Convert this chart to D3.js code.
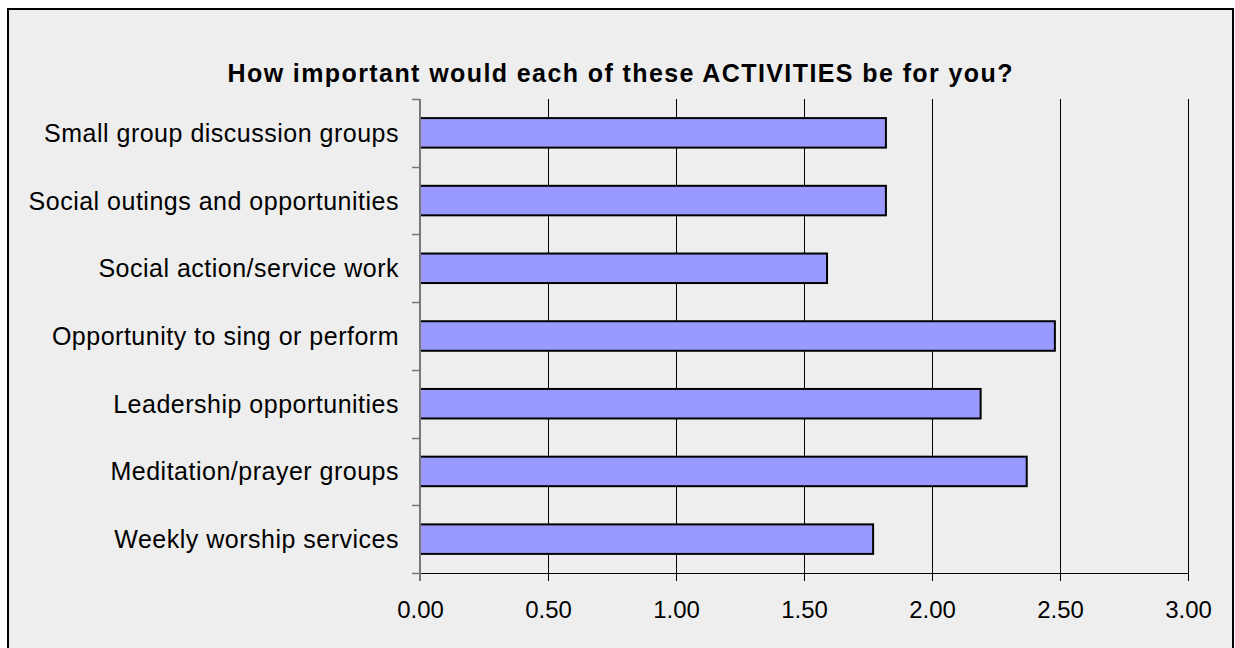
<!DOCTYPE html>
<html>
<head>
<meta charset="utf-8">
<script src="https://cdn.jsdelivr.net/npm/d3@7"></script>
<style>
  html, body { margin: 0; padding: 0; background: #ffffff; }
  svg { display: block; }
  text { font-family: "Liberation Sans", Arial, sans-serif; fill: #000; }
</style>
</head>
<body>
<svg id="chart" width="1235" height="648"></svg>
<script>
// Survey activities, listed top to bottom
const categories = [
  "Small group discussion groups",
  "Social outings and opportunities",
  "Social action/service work",
  "Opportunity to sing or perform",
  "Leadership opportunities",
  "Meditation/prayer groups",
  "Weekly worship services"
];
// Mean importance rating for each activity
const values = [1.82, 1.82, 1.59, 2.48, 2.19, 2.37, 1.77];
// Value axis ticks
const xTicks = [0, 0.5, 1, 1.5, 2, 2.5, 3];
const titleText = "How important would each of these ACTIVITIES be for you?";

const svg = d3.select("#chart");
const plot = { left: 420, right: 1188, top: 99, bottom: 573 };

// Chart area frame
svg.append("rect")
  .attr("x", 8).attr("y", 9)
  .attr("width", 1225).attr("height", 642)
  .attr("fill", "#eeeeee")
  .attr("stroke", "#000").attr("stroke-width", 2);

// Title
svg.append("text")
  .attr("x", 620).attr("y", 82)
  .attr("text-anchor", "middle")
  .attr("font-size", 25)
  .attr("font-weight", "bold")
  .attr("textLength", 785)
  .attr("lengthAdjust", "spacing")
  .text(titleText);

const x = d3.scaleLinear().domain([0, 3]).range([plot.left, plot.right]);
const y = d3.scaleBand().domain(categories).range([plot.top, plot.bottom]).padding(0);
const barH = y.step() * 0.436;

// Vertical gridlines
svg.append("g")
  .selectAll("line")
  .data(xTicks.filter(d => d > 0))
  .join("line")
  .attr("x1", d => Math.round(x(d)) + 0.5).attr("x2", d => Math.round(x(d)) + 0.5)
  .attr("y1", plot.top).attr("y2", plot.bottom)
  .attr("stroke", "#000").attr("stroke-width", 1);

// Bars
svg.append("g")
  .selectAll("rect")
  .data(categories.map((c, i) => ({ c, v: values[i] })))
  .join("rect")
  .attr("x", x(0))
  .attr("y", d => y(d.c) + (y.step() - barH) / 2)
  .attr("width", d => x(d.v) - x(0))
  .attr("height", barH)
  .attr("fill", "#9999ff")
  .attr("stroke", "#000")
  .attr("stroke-width", 2);

// X axis
const xAxis = svg.append("g")
  .attr("transform", `translate(0,${plot.bottom})`)
  .call(d3.axisBottom(x).tickValues(xTicks).tickFormat(d3.format(".2f")).tickSize(8).tickSizeOuter(0));
xAxis.select(".domain").remove();
xAxis.selectAll(".tick line").attr("stroke", "#000");
xAxis.selectAll(".tick text")
  .attr("font-family", "Liberation Sans, Arial, sans-serif")
  .attr("font-size", 24)
  .attr("fill", "#000")
  .attr("dy", null)
  .attr("y", 45);
svg.append("line")
  .attr("x1", plot.left - 8).attr("x2", plot.right)
  .attr("y1", plot.bottom + 0.5).attr("y2", plot.bottom + 0.5)
  .attr("stroke", "#000").attr("stroke-width", 1);

// Y axis: line, boundary ticks, centred category labels
const bounds = categories.map(c => y(c)).concat([plot.bottom]);
svg.append("g")
  .selectAll("line")
  .data(bounds)
  .join("line")
  .attr("x1", plot.left - 8).attr("x2", plot.left)
  .attr("y1", d => Math.round(d) + 0.5).attr("y2", d => Math.round(d) + 0.5)
  .attr("stroke", "#777").attr("stroke-width", 1.5);
svg.append("line")
  .attr("x1", plot.left).attr("x2", plot.left)
  .attr("y1", plot.top).attr("y2", plot.bottom + 8)
  .attr("stroke", "#777").attr("stroke-width", 2);

svg.append("g")
  .selectAll("text")
  .data(categories)
  .join("text")
  .attr("x", 399)
  .attr("y", d => y(d) + y.step() / 2 + 9)
  .attr("text-anchor", "end")
  .attr("font-size", 25)
  .attr("letter-spacing", 0.5)
  .text(d => d);
</script>
</body>
</html>
